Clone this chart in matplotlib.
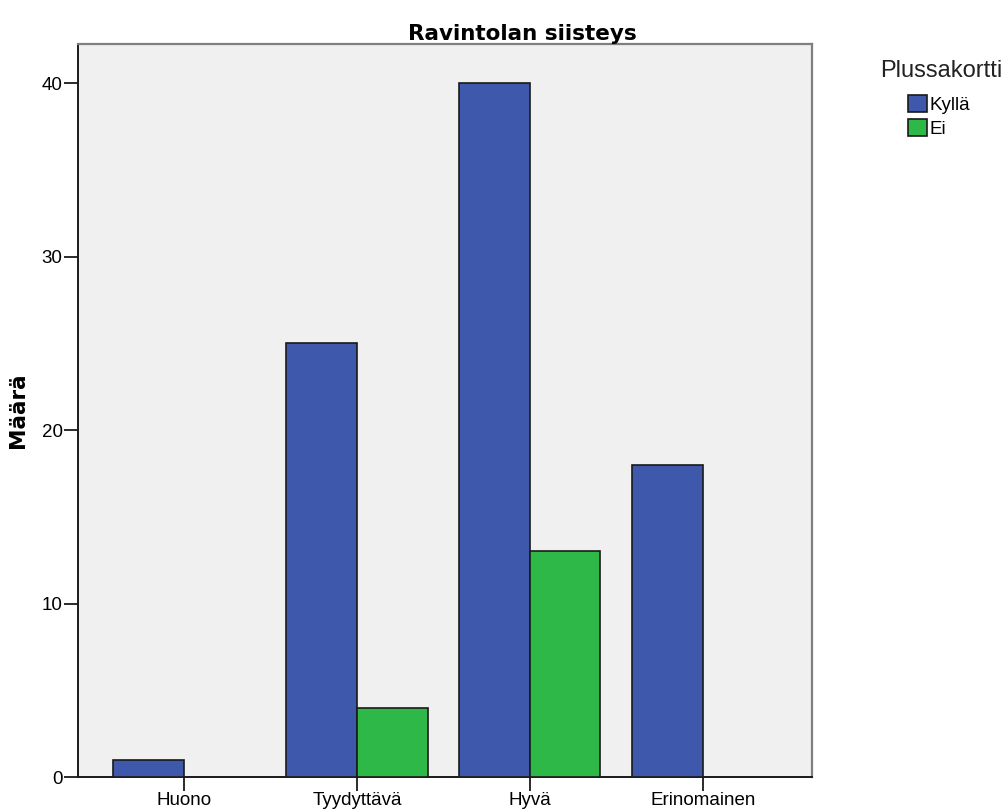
import numpy as np
import matplotlib
matplotlib.use('Agg')
import matplotlib.pyplot as plt
from matplotlib.patches import Patch

plt.rcParams['font.family'] = ['Liberation Sans', 'DejaVu Sans']

luokat = ['Huono', 'Tyydyttävä', 'Hyvä', 'Erinomainen']
kylla = [1, 25, 40, 18]
ei = [0, 4, 13, 0]
sarjat = ['Kyllä', 'Ei']
varit = ['#3E58AC', '#2EB848']
reuna = '#1a1a1a'

fig = plt.figure(figsize=(10.06, 8.11), dpi=100)
ax = fig.add_axes([0.0775, 0.0419, 0.7295, 0.9038])
ax.set_facecolor('#F0F0F0')

x = np.arange(len(luokat))
lev = 0.408
# kyllä-pylväs tikin vasemmalle puolelle, ei-pylväs oikealle
for i in x:
    if kylla[i] > 0:
        ax.bar(i - lev, kylla[i], width=lev, align='edge', color=varit[0],
               edgecolor=reuna, linewidth=1.2, zorder=3)
    if ei[i] > 0:
        ax.bar(i, ei[i], width=lev, align='edge', color=varit[1],
               edgecolor=reuna, linewidth=1.2, zorder=3)

ax.set_xlim(-0.613, 3.63)
ax.set_ylim(0, 42.25)
ax.set_xticks(x)
ax.set_xticklabels(luokat, fontsize=13.5)
ax.set_yticks([0, 10, 20, 30, 40])
ax.tick_params(axis='y', labelsize=13.5, length=10, width=1.3, direction='out',
               pad=1, color=reuna)
ax.tick_params(axis='x', length=10, width=1.3, direction='out', pad=1,
               color=reuna)

for s in ['left', 'bottom']:
    ax.spines[s].set_color(reuna)
    ax.spines[s].set_linewidth(1.4)
for s in ['top', 'right']:
    ax.spines[s].set_color('#7f7f7f')
    ax.spines[s].set_linewidth(1.6)

fig.text(522 / 1006, 1 - 40 / 811, 'Ravintolan siisteys', fontsize=15.5,
         fontweight='bold', ha='center', va='baseline', family='DejaVu Sans')
ax.set_ylabel('Määrä', fontsize=15.5, fontweight='bold', labelpad=10,
              family='DejaVu Sans')

fig.text(880 / 1006, 1 - 60 / 811, 'Plussakortti', fontsize=17, va='top',
         ha='left', color='#222222')
kahvat = [Patch(facecolor=c, edgecolor=reuna, linewidth=1.2) for c in varit]
leg = fig.legend(kahvat, sarjat, loc='upper left',
                 bbox_to_anchor=(908 / 1006, 1 - 95 / 811), frameon=False,
                 fontsize=13.5, handlelength=1.0, handleheight=1.0,
                 handletextpad=0.15, labelspacing=0.3, borderpad=0,
                 borderaxespad=0)

fig.savefig('out.png', dpi=100)
